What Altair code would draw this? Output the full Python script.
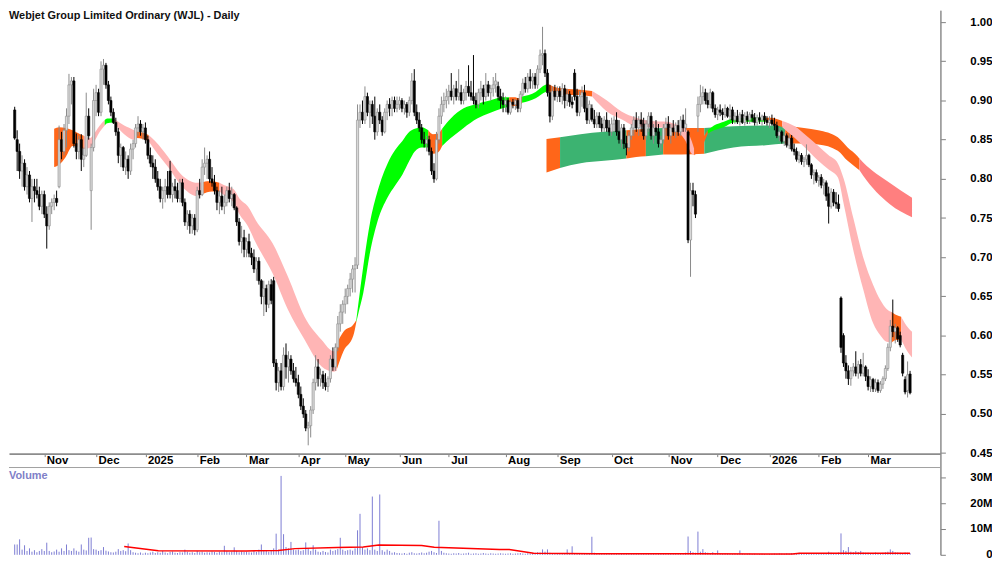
import altair as alt
import pandas as pd

TITLE = "Webjet Group Limited Ordinary (WJL) - Daily"

# ---------------- daily candles (open, high, low, close) ----------------
oct24 = [(.888,.892,.850,.852),(.850,.862,.810,.835),(.835,.845,.800,.810),(.810,.830,.790,.820),
         (.820,.825,.785,.790),(.790,.815,.780,.805),(.805,.810,.770,.775),(.775,.800,.745,.790),
         (.790,.800,.770,.785),(.785,.800,.775,.780),(.780,.790,.760,.765),(.765,.785,.755,.780)]
nov24 = [(.780,.785,.750,.755),(.755,.765,.711,.740),(.740,.770,.735,.765),(.765,.775,.755,.770),
         (.770,.780,.760,.775),(.775,.785,.765,.770),(.790,.868,.788,.850),(.850,.860,.825,.835),
         (.835,.870,.830,.862),(.862,.890,.840,.880),(.880,.934,.870,.920),(.920,.930,.895,.925),
         (.925,.930,.840,.845),(.845,.858,.825,.835),(.835,.855,.825,.850),(.850,.857,.810,.825),
         (.825,.840,.815,.830),(.830,.910,.828,.880),(.880,.890,.850,.855),(.785,.845,.735,.840),
         (.840,.915,.835,.900)]
dec24 = [(.900,.920,.880,.910),(.910,.915,.880,.885),(.885,.950,.880,.940),(.940,.953,.920,.945),
         (.945,.948,.915,.920),(.920,.925,.895,.900),(.900,.905,.880,.885),(.885,.890,.870,.872),
         (.872,.878,.855,.860),(.860,.865,.820,.830),(.830,.845,.815,.840),(.840,.842,.810,.815),
         (.815,.835,.805,.825),(.825,.830,.800,.810),(.810,.845,.805,.838),(.838,.850,.825,.845),
         (.845,.870,.840,.865),(.865,.880,.855,.870),(.870,.875,.855,.860),(.860,.870,.850,.865)]
jan25 = [(.865,.872,.845,.850),(.850,.855,.825,.830),(.830,.840,.815,.820),(.820,.830,.800,.815),
         (.815,.825,.795,.800),(.800,.810,.785,.790),(.790,.800,.770,.775),(.775,.790,.762,.785),
         (.785,.800,.770,.790),(.790,.810,.775,.780),(.810,.823,.775,.780),(.780,.795,.770,.790),
         (.790,.800,.775,.785),(.785,.795,.770,.775),(.775,.800,.770,.795),(.795,.800,.765,.770),
         (.770,.775,.740,.745),(.745,.760,.735,.755),(.755,.760,.730,.740),(.740,.755,.730,.750),
         (.750,.755,.728,.735)]
feb25 = [(.735,.790,.732,.785),(.785,.800,.775,.780),(.780,.825,.778,.815),(.815,.840,.805,.820),
         (.820,.830,.800,.825),(.825,.835,.795,.800),(.800,.815,.790,.795),(.795,.805,.780,.785),
         (.785,.790,.760,.770),(.770,.785,.755,.778),(.778,.790,.760,.765),(.765,.780,.755,.770),
         (.770,.790,.765,.785),(.785,.795,.770,.775),(.775,.790,.765,.780),(.780,.782,.760,.763),
         (.763,.765,.740,.745),(.745,.750,.715,.720),(.720,.740,.705,.725),(.725,.735,.700,.710)]
mar25 = [(.710,.725,.700,.720),(.720,.730,.700,.705),(.705,.712,.690,.700),(.700,.710,.680,.685),
         (.685,.700,.670,.695),(.695,.700,.665,.670),(.670,.672,.640,.650),(.650,.670,.625,.660),
         (.660,.665,.630,.640),(.640,.670,.635,.665),(.665,.672,.640,.645),(.670,.675,.560,.565),
         (.565,.570,.530,.540),(.540,.560,.528,.555),(.555,.565,.530,.535),(.535,.585,.530,.575),
         (.575,.590,.545,.560),(.560,.580,.540,.570),(.570,.575,.550,.555),(.555,.565,.540,.545),
         (.545,.560,.535,.540)]
apr25 = [(.540,.550,.520,.525),(.525,.535,.505,.510),(.510,.520,.495,.500),(.500,.505,.478,.482),
         (.482,.490,.460,.485),(.485,.510,.470,.505),(.505,.545,.500,.540),(.540,.575,.530,.560),
         (.560,.570,.535,.545),(.545,.558,.535,.550),(.550,.555,.532,.540),(.540,.552,.530,.535),
         (.535,.548,.528,.545),(.545,.575,.540,.570),(.570,.585,.555,.560),(.560,.590,.555,.585),
         (.585,.625,.580,.615),(.615,.640,.605,.630),(.630,.645,.615,.640)]
may25 = [(.640,.660,.628,.650),(.650,.665,.640,.660),(.660,.680,.650,.672),(.672,.690,.655,.685),
         (.685,.700,.655,.690),(.690,.895,.685,.875),(.875,.895,.865,.885),(.885,.900,.870,.875),
         (.875,.918,.870,.905),(.905,.910,.880,.885),(.885,.900,.865,.895),(.895,.900,.870,.880),
         (.880,.905,.850,.860),(.860,.890,.855,.885),(.885,.895,.870,.875),(.875,.880,.855,.860),
         (.860,.890,.858,.885),(.885,.900,.875,.895),(.895,.903,.880,.890),(.890,.905,.880,.900),
         (.900,.905,.885,.890),(.890,.905,.885,.895)]
jun25 = [(.895,.905,.888,.900),(.900,.903,.885,.890),(.890,.900,.882,.895),(.895,.898,.878,.885),
         (.885,.905,.880,.900),(.900,.935,.895,.925),(.925,.940,.880,.885),(.885,.895,.870,.875),
         (.875,.885,.860,.865),(.865,.870,.845,.850),(.850,.860,.840,.845),(.845,.855,.835,.850),
         (.850,.855,.830,.835),(.835,.840,.805,.810),(.810,.820,.795,.800),(.800,.860,.798,.850),
         (.850,.890,.845,.880),(.880,.905,.870,.895),(.895,.910,.885,.900),(.900,.915,.890,.905)]
jul25 = [(.905,.920,.895,.912),(.912,.935,.900,.905),(.905,.920,.895,.915),(.915,.925,.900,.905),
         (.905,.940,.900,.910),(.910,.920,.895,.900),(.900,.915,.895,.910),(.910,.925,.900,.918),
         (.918,.945,.905,.910),(.910,.925,.900,.905),(.905,.958,.895,.900),(.900,.910,.890,.895),
         (.895,.915,.890,.910),(.910,.925,.900,.915),(.915,.920,.895,.905),(.905,.935,.900,.920),
         (.920,.925,.905,.910),(.910,.920,.900,.915),(.915,.930,.905,.920),(.920,.935,.910,.925),
         (.918,.924,.900,.905),(.905,.915,.890,.900),(.900,.910,.885,.895)]
aug25 = [(.895,.905,.885,.900),(.900,.903,.882,.885),(.885,.900,.882,.898),(.898,.902,.890,.895),
         (.895,.902,.888,.900),(.900,.903,.885,.890),(.890,.912,.885,.908),(.908,.928,.905,.922),
         (.922,.930,.910,.915),(.915,.935,.910,.930),(.930,.940,.915,.925),(.925,.935,.915,.930),
         (.930,.935,.915,.920),(.920,.945,.915,.940),(.940,.965,.935,.958),(.958,.994,.945,.960),
         (.960,.965,.930,.935),(.935,.940,.905,.910),(.910,.920,.872,.880),(.880,.918,.875,.912),
         (.912,.920,.900,.905)]
sep25 = [(.905,.918,.898,.912),(.912,.918,.898,.905),(.905,.922,.895,.915),(.915,.920,.890,.900),
         (.900,.915,.893,.908),(.908,.912,.892,.898),(.898,.905,.890,.895),(.935,.940,.900,.905),
         (.905,.915,.880,.885),(.885,.912,.880,.905),(.905,.918,.892,.910),(.910,.920,.885,.890),
         (.890,.905,.870,.875),(.875,.900,.870,.895),(.890,.895,.873,.876),(.876,.888,.865,.870),
         (.870,.885,.865,.880),(.880,.885,.865,.870),(.870,.878,.860,.865),(.865,.880,.860,.875),
         (.875,.885,.860,.865),(.865,.875,.855,.860)]
oct25 = [(.860,.878,.855,.870),(.870,.880,.860,.875),(.875,.885,.855,.860),(.860,.875,.845,.850),
         (.850,.870,.840,.865),(.865,.870,.838,.845),(.845,.855,.830,.840),(.840,.860,.835,.855),
         (.855,.870,.850,.865),(.865,.880,.855,.875),(.875,.885,.860,.865),(.865,.880,.855,.875),
         (.875,.885,.860,.870),(.870,.878,.850,.855),(.855,.875,.850,.870),(.870,.885,.860,.880),
         (.880,.885,.850,.855),(.855,.870,.845,.865),(.865,.875,.855,.860),(.860,.870,.840,.845),
         (.845,.855,.835,.850),(.850,.870,.845,.865),(.865,.878,.855,.870)]
nov25 = [(.870,.880,.850,.855),(.855,.870,.845,.865),(.865,.875,.855,.860),(.860,.872,.852,.868),
         (.868,.875,.855,.860),(.860,.880,.855,.875),(.875,.882,.860,.865),(.865,.890,.860,.870),
         (.860,.862,.718,.722),(.722,.795,.675,.785),(.785,.795,.765,.780),(.780,.785,.750,.755),
         (.880,.905,.860,.895),(.895,.920,.885,.905),(.905,.918,.895,.910),(.910,.915,.895,.900),
         (.900,.910,.890,.895),(.895,.915,.890,.910),(.910,.912,.885,.890),(.890,.895,.878,.882)]
dec25 = [(.882,.892,.875,.888),(.888,.895,.880,.885),(.885,.890,.875,.882),(.882,.895,.878,.890),
         (.890,.892,.878,.880),(.880,.895,.875,.888),(.888,.892,.870,.875),(.875,.885,.870,.880),
         (.880,.888,.870,.873),(.873,.885,.868,.882),(.882,.888,.870,.872),(.872,.885,.868,.880),
         (.880,.886,.870,.875),(.875,.885,.870,.882),(.882,.888,.872,.878),(.878,.884,.868,.872),
         (.872,.882,.868,.878),(.878,.885,.870,.875),(.875,.882,.868,.880),(.880,.885,.870,.875),
         (.875,.880,.868,.872)]
jan26 = [(.872,.880,.865,.875),(.875,.882,.868,.870),(.870,.878,.862,.868),(.868,.873,.852,.855),
         (.855,.865,.848,.860),(.860,.862,.845,.848),(.848,.860,.842,.855),(.855,.858,.840,.843),
         (.843,.858,.838,.852),(.852,.856,.835,.838),(.838,.845,.830,.835),(.835,.840,.822,.825),
         (.825,.835,.820,.830),(.830,.833,.818,.822),(.822,.828,.815,.825),(.825,.844,.818,.830),
         (.830,.832,.815,.818),(.818,.820,.800,.805),(.805,.812,.793,.808),(.808,.812,.795,.798)]
feb26 = [(.798,.805,.790,.802),(.802,.806,.788,.792),(.792,.800,.780,.795),(.795,.798,.772,.778),
         (.781,.790,.743,.765),(.765,.788,.762,.783),(.783,.787,.765,.770),(.770,.783,.762,.768),
         (.768,.780,.758,.762),(.648,.650,.578,.585),(.600,.603,.560,.565),(.565,.575,.545,.555),
         (.555,.562,.537,.545),(.545,.560,.536,.555),(.555,.565,.548,.560),(.560,.580,.548,.552),
         (.552,.568,.545,.563),(.563,.570,.548,.552),(.552,.578,.548,.560),(.560,.562,.542,.548)]
mar26 = [(.548,.557,.530,.535),(.535,.548,.528,.544),(.544,.546,.528,.532),(.532,.545,.528,.540),
         (.540,.544,.527,.530),(.530,.542,.527,.538),(.538,.548,.532,.545),(.545,.562,.542,.558),
         (.558,.590,.555,.585),(.585,.620,.580,.612),(.612,.646,.598,.605),(.605,.615,.590,.610),
         (.610,.612,.592,.596),(.600,.605,.585,.588),(.575,.578,.548,.552),(.544,.548,.525,.528),
         (.530,.567,.521,.550),(.551,.555,.525,.527)]

# ---------------- daily volume (millions of shares) ----------------
vol_oct24 = [4.0,4.0,6.0,2.0,3.7,1.5,2.5,1.2,1.8,1.0,1.5,2.2]
vol_nov24 = [1.5,4.7,1.5,1.0,1.3,2.0,1.2,2.5,1.5,4.0,1.8,1.5,2.5,1.6,1.2,4.0,2.0,1.7,6.6,6.7,2.2]
vol_dec24 = [2.0,1.5,1.8,3.0,1.6,1.3,1.0,0.9,1.2,2.2,1.5,1.8,1.4,4.4,1.8,1.0,0.8,0.6,0.9,0.5]
vol_jan25 = [0.8,0.6,0.9,1.2,0.7,1.0,0.8,1.5,0.9,0.6,1.1,1.3,0.8,0.7,1.0,0.9,2.0,1.2,0.8,1.0,0.7]
vol_feb25 = [1.5,1.0,1.2,0.8,1.0,0.9,1.3,1.1,0.8,1.2,1.0,3.5,1.4,1.0,1.2,2.9,1.5,1.0,1.3,1.1]
vol_mar25 = [1.2,1.0,0.9,1.5,1.1,2.0,4.0,1.5,1.8,1.2,1.6,2.5,8.2,2.0,30.6,8.0,3.0,2.5,5.0,2.0,1.8]
vol_apr25 = [2.0,1.5,1.8,4.8,2.5,1.5,3.7,2.0,1.2,1.0,1.5,1.1,0.9,2.0,1.5,1.8,2.2,6.6,2.0]
vol_may25 = [1.5,1.8,2.0,1.6,2.5,9.5,15.9,3.0,2.0,2.5,1.8,22.6,2.0,1.5,23.4,1.8,1.2,2.0,1.5,0.8,1.0,0.7]
vol_jun25 = [0.6,0.5,0.7,0.4,0.8,1.0,0.6,0.5,0.7,0.9,0.6,0.8,1.2,1.5,1.0,0.7,13.2,1.5,0.8,0.6]
vol_jul25 = [0.5,0.4,0.6,0.5,0.7,0.4,0.5,0.6,0.8,0.4,0.5,0.6,0.4,0.5,0.7,0.5,0.4,0.6,0.5,0.4,0.5,0.6,0.5]
vol_aug25 = [0.4,0.5,0.6,0.4,0.5,0.6,0.7,0.5,0.4,0.6,0.5,0.7,0.8,1.0,0.9,2.1,1.2,2.1,0.8,0.6,0.5]
vol_sep25 = [0.5,0.6,0.4,0.5,2.1,0.5,3.3,0.6,0.5,0.4,0.6,0.5,0.4,0.6,7.0,0.8,0.5,0.4,0.6,0.5,0.4,0.5]
vol_oct25 = [0.4,0.5,0.3,0.4,0.6,0.5,0.4,0.3,0.5,0.4,0.6,0.4,0.3,0.5,0.4,0.6,0.5,0.4,0.3,0.5,0.4,0.6,0.5]
vol_nov25 = [0.4,0.5,0.3,0.6,0.5,0.4,0.6,0.8,7.1,1.5,1.0,0.8,9.0,1.2,2.2,1.0,0.8,0.6,1.0,0.7]
vol_dec25 = [1.7,0.5,0.4,0.6,0.5,0.4,0.3,0.5,0.4,1.7,0.5,0.3,0.4,0.5,0.3,0.4,0.2,0.3,0.4,0.3,0.2]
vol_jan26 = [0.3,0.4,0.5,0.4,0.6,0.5,0.4,0.6,0.5,0.7,0.6,0.5,0.8,0.6,0.5,0.7,0.6,0.5,0.7,0.6]
vol_feb26 = [0.6,0.5,0.7,0.6,1.2,0.8,0.6,0.7,0.9,8.3,1.8,1.5,3.0,1.2,1.0,1.4,1.1,1.5,0.9,0.8]
vol_mar26 = [0.8,0.7,0.6,0.9,0.7,0.6,0.8,1.0,1.2,2.1,1.5,1.0,0.9,0.8,0.7,0.9,0.8,0.6]

# volume moving average (day index, millions)
vma_idx = [44.4, 58.2, 93.8, 106.9, 113.6, 130.6, 141.3, 147.6, 165, 170.1, 196.6, 200.5, 210.4, 236, 275.6, 315.2, 318.3, 363]
vma_val = [3.2, 1.6, 1.5, 1.7, 2.4, 2.8, 3.0, 3.8, 3.6, 2.9, 2.1, 2.1, 0.6, 0.4, 0.4, 0.3, 0.6, 0.6]

# ---------------- moving-average ribbons: (state, [(day index, upper, lower), ...]) ----------------
short_ribbon = [
    ("or", [(16,.864,.815),(18,.866,.818),(20.7,.865,.828),(23.5,.862,.842),(26.6,.857,.840),(28,.855,.838)]),
    ("pk", [(28,.855,.838),(30.6,.852,.840),(31.8,.856,.845),(34.5,.868,.860),(36.5,.875,.868)]),
    ("lm", [(36.5,.875,.868),(37.5,.877,.871),(39.7,.877,.872),(40.5,.876,.870)]),
    ("pk", [(40.5,.876,.870),(44.4,.868,.857),(48.4,.862,.850),(49.5,.860,.852)]),
    ("or", [(49.5,.860,.852),(52,.859,.851),(54.3,.856,.848)]),
    ("pk", [(54.3,.856,.848),(57,.848,.836),(62.2,.828,.815),(67.4,.806,.792),(74,.795,.778),(76.5,.796,.781)]),
    ("or", [(76.5,.796,.781),(78,.797,.783),(80,.797,.784),(83,.795,.784)]),
    ("pk", [(83,.795,.784),(85,.792,.779),(88.7,.787,.770),(91.1,.775,.755),(94.5,.765,.740),(97.8,.747,.718),
            (104.5,.718,.680),(110.8,.675,.633),(117.5,.624,.595),(124.3,.595,.561),(129.4,.580,.554),(130.6,.582,.555)]),
    ("or", [(130.6,.590,.557),(133.3,.605,.580),(137.3,.614,.600),(138.5,.620,.617)]),
    ("lm", [(138.5,.620,.617),(139.3,.640,.628),(141.3,.688,.654),(144,.743,.705),(147.2,.785,.747),(151.1,.819,.776),
            (154.3,.837,.792),(157.1,.848,.805),(160,.860,.823),(162.2,.864,.835),(165,.866,.840),(167.7,.862,.840)]),
    ("or", [(167.7,.862,.840),(169.5,.857,.832),(171.7,.858,.834),(173.3,.864,.842)]),
    ("lm", [(173.3,.864,.842),(176.8,.877,.852),(182,.890,.865),(187.5,.896,.877),(192.6,.900,.884),(197.8,.904,.890),(200.5,.904,.892)]),
    ("or", [(200.5,.904,.892),(202.5,.904,.893),(204.5,.903,.893),(205.7,.905,.897)]),
    ("lm", [(205.7,.905,.897),(211.2,.911,.903),(215.2,.920,.911),(216.3,.921,.912)]),
    ("or", [(216.3,.921,.912),(220.3,.916,.907),(228.2,.914,.907),(234.1,.912,.905)]),
    ("pk", [(234.1,.912,.905),(240.1,.900,.886),(246,.886,.876),(252,.878,.867),(257.8,.874,.866),(264.6,.873,.865),
            (267.7,.870,.862),(271.7,.865,.850),(274.5,.848,.832),(275.5,.838,.830)]),
    ("or", [(275.5,.838,.830),(278,.848,.838),(281,.862,.858)]),
    ("lm", [(281,.862,.858),(283.5,.868,.862),(287.5,.873,.866),(291.4,.877,.872),(298,.878,.873),(304.5,.878,.873)]),
    ("or", [(304.5,.878,.873),(307,.878,.871),(309.2,.876,.868),(311.2,.874,.866)]),
    ("pk", [(311.2,.874,.866),(316.3,.867,.852),(321,.855,.838),(325.8,.842,.823),(330,.830,.812),(333.7,.820,.802),
            (336.1,.800,.768),(340,.750,.709),(344,.700,.659),(348,.665,.616),(351,.645,.600),(353.5,.634,.592),(355.5,.630,.591)]),
    ("or", [(355.5,.630,.591),(357,.627,.594),(359.4,.624,.595)]),
    ("pk", [(359.4,.624,.595),(361.5,.613,.582),(363.8,.605,.572)]),
]
long_ribbon = [
    ("or", [(215.6,.851,.808),(221.1,.853,.814)]),
    ("gr", [(221.1,.853,.814),(229.4,.857,.820),(238.9,.860,.823),(248,.862,.826)]),
    ("or", [(248,.862,.826),(252,.863,.828),(255.9,.864,.829)]),
    ("gr", [(255.9,.864,.829),(262.9,.865,.831)]),
    ("or", [(262.9,.865,.831),(270,.865,.831),(279.6,.865,.832)]),
    ("gr", [(279.6,.865,.832),(291.4,.867,.840),(304.5,.868,.843),(312.4,.867,.845)]),
    ("or", [(312.4,.867,.845),(320,.865,.845),(325.8,.862,.844),(333.7,.853,.836),(337.7,.840,.823),(341.7,.829,.813),(342.5,.826,.811)]),
    ("rd", [(342.5,.826,.811),(344,.821,.804),(354.7,.795,.768),(363.8,.776,.751)]),
]

# month tick positions (trading-day index) and labels
month_idx = [12, 33, 53, 74, 94, 115, 134, 156, 176, 199, 220, 242, 265, 285, 306, 326, 346]
month_lbl = ["Nov", "Dec", "2025", "Feb", "Mar", "Apr", "May", "Jun", "Jul", "Aug", "Sep",
             "Oct", "Nov", "Dec", "2026", "Feb", "Mar"]
price_ticks = [0.45, 0.50, 0.55, 0.60, 0.65, 0.70, 0.75, 0.80, 0.85, 0.90, 0.95, 1.00]
vol_ticks = [0, 10e6, 20e6, 30e6]

RIBBON_COLORS = {"lm": "#00FF00", "or": "#FF6619", "pk": "#FFB5B5", "gr": "#3CB371", "rd": "#FF7F7F"}

# ---------------- tables ----------------
months = [oct24, nov24, dec24, jan25, feb25, mar25, apr25, may25, jun25, jul25, aug25, sep25,
          oct25, nov25, dec25, jan26, feb26, mar26]
candles = pd.DataFrame([r for m in months for r in m], columns=["o", "h", "l", "c"])
candles["i"] = range(len(candles))

vmonths = [vol_oct24, vol_nov24, vol_dec24, vol_jan25, vol_feb25, vol_mar25, vol_apr25, vol_may25,
           vol_jun25, vol_jul25, vol_aug25, vol_sep25, vol_oct25, vol_nov25, vol_dec25, vol_jan26,
           vol_feb26, vol_mar26]
vols = [v for m in vmonths for v in m]
volume = pd.DataFrame({"i": range(len(vols)), "v": [v * 1e6 for v in vols]})
vma = pd.DataFrame({"i": vma_idx, "v": [v * 1e6 for v in vma_val]})


def ribbon_table(segs, prefix):
    rows = []
    for k, (state, pts) in enumerate(segs):
        for (i, t, b) in pts:
            rows.append({"seg": f"{prefix}{k:02d}", "col": RIBBON_COLORS[state], "i": i, "top": t, "bot": b})
    return pd.DataFrame(rows)


short_df = ribbon_table(short_ribbon, "s")
long_df = ribbon_table(long_ribbon, "l")

# ---------------- scales / axes ----------------
W, H = 939, 549
FONT = "Liberation Sans"
FS = 11.5
xscale = alt.Scale(domain=[-0.3, 373.3], nice=False, zero=False)
pscale = alt.Scale(domain=[0.32025, 1.01519], nice=False, zero=False)
vscale = alt.Scale(domain=[0, 211.2e6], nice=False, zero=False)

label_expr = " : ".join(f"datum.value == {v} ? '{l}'" for v, l in zip(month_idx, month_lbl)) + " : ''"
xaxis = alt.Axis(orient="bottom", offset=-102, values=month_idx, labelExpr=label_expr, title=None,
                 grid=False, tickSize=3, tickColor="#808080", domainColor="#8C8C8C", domainWidth=2,
                 labelAlign="left", labelBaseline="middle", labelPadding=4, labelOffset=2,
                 labelFont=FONT, labelFontWeight="bold", labelFontSize=FS, labelColor="black",
                 labelFlush=False, labelOverlap=False)
paxis = alt.Axis(orient="right", values=price_ticks, format=".2f", title=None, grid=False,
                 tickSize=5, tickColor="#808080", domainColor="#8C8C8C", domainWidth=1,
                 labelAlign="right", labelBaseline="middle", labelPadding=47,
                 labelFont=FONT, labelFontWeight="bold", labelFontSize=FS, labelColor="black",
                 labelOverlap=False)
vaxis = alt.Axis(orient="right", values=vol_ticks, title=None, grid=False,
                 labelExpr="datum.value == 0 ? '0' : format(datum.value / 1e6, 'd') + 'M'",
                 tickSize=5, tickColor="#808080", domainColor="#8C8C8C", domainWidth=1,
                 labelAlign="right", labelBaseline="middle", labelPadding=47,
                 labelFont=FONT, labelFontWeight="bold", labelFontSize=FS, labelColor="black",
                 labelOverlap=False)

X = alt.X("i:Q", scale=xscale, axis=xaxis)


def ribbon_chart(df):
    return alt.Chart(df).mark_area(interpolate="monotone", orient="vertical", opacity=1).encode(
        x=X,
        y=alt.Y("top:Q", scale=pscale, axis=paxis, stack=None),
        y2="bot:Q",
        color=alt.Color("col:N", scale=None, legend=None),
        detail="seg:N",
    )


up = "datum.c >= datum.o"
wicks = alt.Chart(candles).mark_rule(strokeWidth=1).encode(
    x=X,
    y=alt.Y("l:Q", scale=pscale, axis=paxis),
    y2="h:Q",
    color=alt.condition(up, alt.value("#8A8A8A"), alt.value("#000000")),
)
bodies = alt.Chart(candles).mark_bar(size=2.2, strokeWidth=0.6).encode(
    x=X,
    y=alt.Y("o:Q", scale=pscale, axis=paxis),
    y2="c:Q",
    fill=alt.condition(up, alt.value("#D8D8D8"), alt.value("#000000")),
    stroke=alt.condition(up, alt.value("#8A8A8A"), alt.value("#000000")),
)
title = alt.Chart(pd.DataFrame({"t": [TITLE]})).mark_text(
    align="left", baseline="top", font=FONT, fontWeight="bold", fontSize=11, color="#111111"
).encode(x=alt.value(0), y=alt.value(0), text="t:N")

price = alt.layer(ribbon_chart(long_df), ribbon_chart(short_df), wicks, bodies, title)

vbars = alt.Chart(volume).mark_rule(strokeWidth=1, color="#7C7CD2").encode(
    x=X, y=alt.Y("v:Q", scale=vscale, axis=vaxis), y2=alt.datum(0)
)
vline = alt.Chart(vma).mark_line(color="#FF0000", strokeWidth=1.5).encode(
    x=X, y=alt.Y("v:Q", scale=vscale, axis=vaxis)
)
vtop = alt.Chart(pd.DataFrame({"v": [33.85e6]})).mark_rule(color="#A0A0A0", strokeWidth=1).encode(
    y=alt.Y("v:Q", scale=vscale, axis=vaxis), x=alt.value(0), x2=alt.value(W)
)
vlabel = alt.Chart(pd.DataFrame({"t": ["Volume"]})).mark_text(
    align="left", baseline="middle", font=FONT, fontWeight="bold", fontSize=11, color="#8080C8"
).encode(x=alt.value(0), y=alt.value(470), text="t:N")

vol = alt.layer(vtop, vbars, vline, vlabel)

chart = (
    alt.layer(price, vol)
    .resolve_scale(y="independent")
    .properties(width=W, height=H, padding=0, background="white")
    .configure_view(stroke=None)
)

chart.save("out.html", embed_options={"renderer": "svg", "actions": False})
